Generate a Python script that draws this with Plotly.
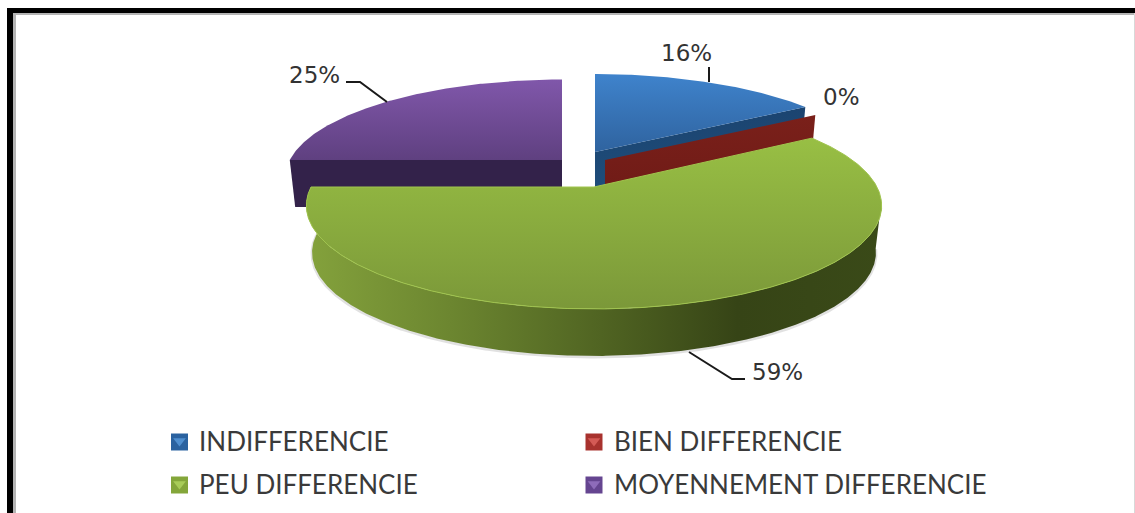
import math
import plotly.graph_objects as go

categories = ["INDIFFERENCIE", "BIEN DIFFERENCIE", "PEU DIFFERENCIE", "MOYENNEMENT DIFFERENCIE"]
values = [16, 0, 59, 25]
top_scales = [
    [[0, "#2f639f"], [1, "#3f83cc"]],
    [[0, "#7a1f1a"], [1, "#8c2a22"]],
    [[0, "#7b9839"], [1, "#98bf44"]],
    [[0, "#5f4080"], [1, "#8057aa"]],
]
wall_scales = [
    [[0, "#1f4e7c"], [1, "#1b4470"]],
    [[0, "#6e1a16"], [1, "#7a201a"]],
    [[0, "#84a23c"], [0.25, "#6c8630"], [0.55, "#4c5f20"], [0.75, "#364416"], [1, "#3a4a18"]],
    [[0, "#33224a"], [1, "#33224a"]],
]
legend_colors = ["#2a62a0", "#a8322e", "#84a63a", "#654590"]
legend_light = ["#4f8fd0", "#d45a55", "#a8cc58", "#8e6cba"]

# geometry of the perspective disc, in figure pixels
RX, RY, K, H, SHRINK = 283, 100, 0.18, 47, 0.98
CX, CY = 594, 187
slice_geo = [  # dx, dy, scale x, scale y
    (1, -35, 0.965, 0.92),
    (11, -27, 0.965, 0.92),
    (0, 0, 1.0, 1.0),
    (-32, -27, 0.962, 0.95),
]


def project(deg, geo, low=False):
    dx, dy, sx, sy = geo
    t = math.radians(deg)
    w = 1 + K * math.sin(t)
    sh = SHRINK if low else 1.0
    return (CX + dx + sh * sx * RX * math.cos(t) / w,
            CY + dy - sy * RY * math.sin(t) / w + (H if low else 0.0))


def arc(a0, a1, geo, low=False):
    n = max(2, int(abs(a1 - a0) * 2))
    return [project(a0 + (a1 - a0) * i / n, geo, low) for i in range(n + 1)]


def add_poly(fig, pts, scale, kind="vertical", line=None):
    fig.add_trace(go.Scatter(
        x=[p[0] for p in pts] + [pts[0][0]],
        y=[p[1] for p in pts] + [pts[0][1]],
        mode="lines", fill="toself",
        fillgradient=dict(type=kind, colorscale=scale),
        line=dict(width=1 if line else 0, color=line or "rgba(0,0,0,0)"),
        hoverinfo="skip", showlegend=False,
    ))


# slice angles, clockwise from 12 o'clock
angles = []
a = 90.0
for v in values:
    angles.append((a, a - v * 3.6))
    a -= v * 3.6

fig = go.Figure()

# draw back slices first: purple, blue, red, then green in front
for i in [3, 0, 1, 2]:
    a0, a1 = angles[i]
    geo = slice_geo[i]
    apex = (CX + geo[0], CY + geo[1])
    apex_low = (apex[0], apex[1] + H)
    if i == 3:  # cut face along 180 degrees
        add_poly(fig, [apex, project(a0, geo), project(a0, geo, True), apex_low], wall_scales[i])
    if i == 0:  # cut face on the clockwise side
        add_poly(fig, [apex, project(a1, geo), project(a1, geo, True), apex_low], wall_scales[i])
    if i == 1:  # zero sized slice: only its cut face shows
        add_poly(fig, [apex, project(a0, geo), project(a0, geo, True), apex_low], wall_scales[i])
        continue
    if i == 2:  # outer wall of the front slice, with soft shadow
        lo = a1
        hi = -8
        outer = arc(lo, hi, geo) + arc(hi, lo, geo, True)
        shadow = arc(lo, hi, geo, True)
        fig.add_trace(go.Scatter(x=[p[0] for p in shadow], y=[p[1] + 1 for p in shadow], mode="lines",
                                 line=dict(color="rgba(120,120,120,0.22)", width=3),
                                 hoverinfo="skip", showlegend=False))
        add_poly(fig, outer, wall_scales[i], kind="horizontal")
    add_poly(fig, [apex] + arc(a0, a1, geo), top_scales[i], line="#a0c44e" if i == 2 else None)

# legend drawn as markers with text
leg_x = [179.5, 594, 179.5, 594]
leg_y = [442, 442, 485, 485]
fig.add_trace(go.Scatter(x=leg_x, y=leg_y, mode="markers",
                         marker=dict(symbol="square", size=17, color=legend_colors),
                         hoverinfo="skip", showlegend=False))
fig.add_trace(go.Scatter(x=leg_x, y=[y - 1 for y in leg_y], mode="markers",
                         marker=dict(symbol="triangle-down", size=11, color=legend_light),
                         hoverinfo="skip", showlegend=False))
text_x = [197, 612, 197, 612]
annotations = [dict(x=tx, y=ty, text=c, showarrow=False, xanchor="left", yanchor="middle",
                    font=dict(family="Lato", size=26, color="#3a3a3a"))
               for tx, ty, c in zip(text_x, [y - 1 for y in leg_y], categories)]

label_pos = [(686, 53), (841, 97), (777, 372), (314, 75)]
annotations += [dict(x=p[0], y=p[1], text=f"{v}%", showarrow=False,
                     font=dict(family="DejaVu Sans", size=23, color="#333333"))
                for p, v in zip(label_pos, values)]

shapes = []
for path in ["M709,67 L709,82", "M346,82 L360,82 L387,102", "M689,352 L732,379 L745,379"]:
    shapes.append(dict(type="path", path=path, line=dict(color="#1a1a1a", width=2)))
# frame
shapes += [
    dict(type="rect", x0=13, x1=16, y0=13, y1=513, fillcolor="#b4b4b4", line_width=0, layer="below"),
    dict(type="rect", x0=13, x1=1135, y0=13, y1=15, fillcolor="#b4b4b4", line_width=0, layer="below"),
    dict(type="rect", x0=1134, x1=1135, y0=13, y1=513, fillcolor="#d8d8d8", line_width=0, layer="below"),
    dict(type="rect", x0=7, x1=13, y0=8, y1=513, fillcolor="#000000", line_width=0),
    dict(type="rect", x0=7, x1=1135, y0=8, y1=13, fillcolor="#000000", line_width=0),
]

fig.update_layout(
    width=1135, height=513, margin=dict(l=0, r=0, t=0, b=0),
    paper_bgcolor="white", plot_bgcolor="white", showlegend=False,
    xaxis=dict(range=[0, 1135], visible=False, fixedrange=True),
    yaxis=dict(range=[513, 0], visible=False, fixedrange=True),
    annotations=annotations, shapes=shapes,
)
fig.write_html("out.html", config={"displayModeBar": False},
               post_script="document.body.style.margin='0';document.body.style.overflow='hidden';")
